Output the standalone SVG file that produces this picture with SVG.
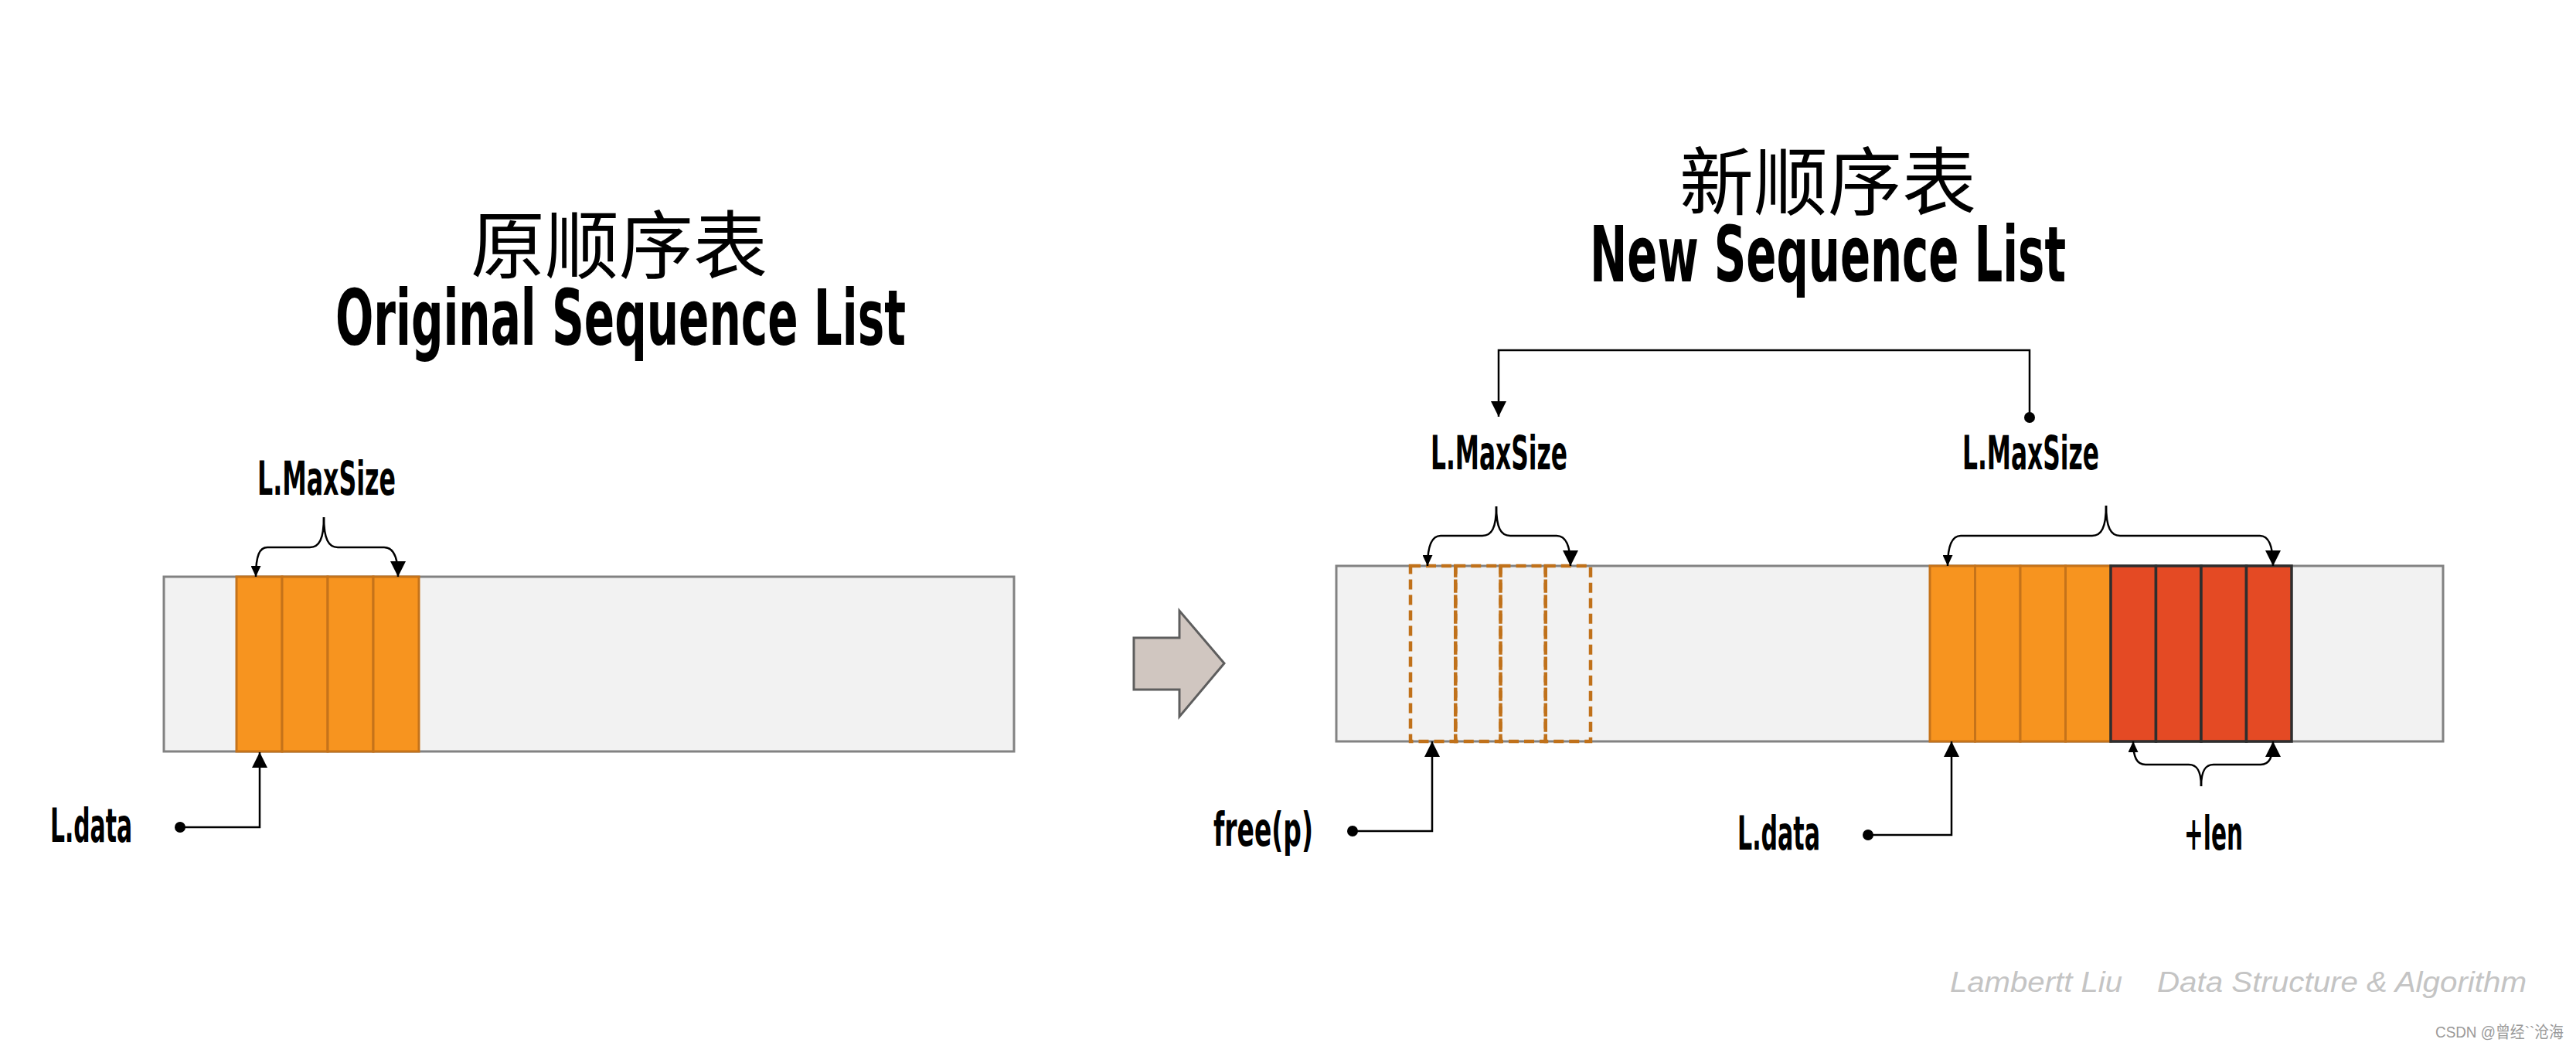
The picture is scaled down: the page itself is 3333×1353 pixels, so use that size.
<svg xmlns="http://www.w3.org/2000/svg" width="3333" height="1353" viewBox="0 0 3333 1353">
<style>
.bar{fill:#F2F2F2;stroke:#828282;stroke-width:3}
.org{fill:#F7941F;stroke:#C5731A;stroke-width:3}
.red{fill:#E44A24;stroke:#2E2E2E;stroke-width:3.5}
.dash{fill:none;stroke:#C0711A;stroke-width:4.5;stroke-dasharray:13 7}
.lbl{font-family:"Liberation Sans Narrow","DejaVu Sans Condensed","Liberation Sans",sans-serif;font-weight:bold;font-size:60px;fill:#000}
.ttl{font-family:"Liberation Sans Narrow","DejaVu Sans Condensed","Liberation Sans",sans-serif;font-weight:bold;font-size:100px}
.cjk{font-family:"Noto Sans CJK SC",sans-serif;font-weight:normal;font-size:96px}
.con{fill:none;stroke:#000;stroke-width:2.5}
.foot{font-family:"Liberation Sans","DejaVu Sans",sans-serif;font-style:italic;font-size:36px;fill:#C4C4C4}
</style>
<defs>
<marker id="ah" markerUnits="userSpaceOnUse" viewBox="0 0 20 20" markerWidth="20" markerHeight="20" refX="20" refY="10" orient="auto"><path d="M0,0 L20,10 L0,20 z" fill="#000"/></marker>
<marker id="ahs" markerUnits="userSpaceOnUse" viewBox="0 0 14 13" markerWidth="14" markerHeight="13" refX="14" refY="6.5" orient="auto"><path d="M0,0 L14,6.5 L0,13 z" fill="#000"/></marker>
</defs>
<rect width="3333" height="1353" fill="#FFFFFF"/>

<g id="title-left">
<text fill="#000"><tspan class="cjk" x="609" y="352">原顺序表</tspan><tspan class="ttl" x="434" y="446" textLength="738" lengthAdjust="spacingAndGlyphs">Original Sequence List</tspan></text>
</g>
<g id="title-right">
<text fill="#000"><tspan class="cjk" x="2173" y="270">新顺序表</tspan><tspan class="ttl" x="2057" y="364" textLength="616" lengthAdjust="spacingAndGlyphs">New Sequence List</tspan></text>
</g>

<g id="list-original">
<rect class="bar" x="212" y="746" width="1100" height="226"/>
<rect class="org" x="306" y="746" width="59" height="226"/>
<rect class="org" x="365" y="746" width="59" height="226"/>
<rect class="org" x="424" y="746" width="59" height="226"/>
<rect class="org" x="483" y="746" width="59" height="226"/>
</g>

<g id="transform-arrow">
<polygon points="1467,825 1526,825 1526,790 1584,858 1526,927 1526,892 1467,892" fill="#D0C6C0" stroke="#5E5E5E" stroke-width="3"/>
</g>

<g id="list-new">
<rect class="bar" x="1729" y="732" width="1432" height="227"/>
<rect class="dash" x="1825" y="732" width="58.25" height="227"/>
<rect class="dash" x="1883.25" y="732" width="58.25" height="227"/>
<rect class="dash" x="1941.5" y="732" width="58.25" height="227"/>
<rect class="dash" x="1999.75" y="732" width="58.25" height="227"/>
<rect class="org" x="2497" y="732" width="58.5" height="227"/>
<rect class="org" x="2555.5" y="732" width="58.5" height="227"/>
<rect class="org" x="2614" y="732" width="58.5" height="227"/>
<rect class="org" x="2672.5" y="732" width="58.5" height="227"/>
<rect class="red" x="2731" y="732" width="58.5" height="227"/>
<rect class="red" x="2789.5" y="732" width="58.5" height="227"/>
<rect class="red" x="2848" y="732" width="58.5" height="227"/>
<rect class="red" x="2906.5" y="732" width="58.5" height="227"/>
</g>

<g id="labels">
<text class="lbl" x="333" y="640" textLength="179" lengthAdjust="spacingAndGlyphs">L.MaxSize</text>
<text class="lbl" x="1851" y="607" textLength="177" lengthAdjust="spacingAndGlyphs">L.MaxSize</text>
<text class="lbl" x="2539" y="607" textLength="177" lengthAdjust="spacingAndGlyphs">L.MaxSize</text>
<text class="lbl" x="65" y="1089" textLength="106" lengthAdjust="spacingAndGlyphs">L.data</text>
<text class="lbl" x="1570" y="1094" textLength="129" lengthAdjust="spacingAndGlyphs">free(p)</text>
<text class="lbl" x="2248" y="1099" textLength="107" lengthAdjust="spacingAndGlyphs">L.data</text>
<text class="lbl" x="2826" y="1099" textLength="76" lengthAdjust="spacingAndGlyphs">+len</text>
</g>

<g id="connectors">
<path class="con" d="M419,669 C419,697 413,708 401,708 L346,708 C336,708 331,718 331,746" marker-end="url(#ahs)"/>
<path class="con" d="M419,669 C419,697 425,708 437,708 L497,708 C508,708 515,718 515,746" marker-end="url(#ah)"/>
<path class="con" d="M233,1070 L336,1070 L336,973" marker-end="url(#ah)"/>
<circle cx="233" cy="1070" r="7" fill="#000"/>

<path class="con" d="M1936,655 C1936,683 1930,693 1918,693 L1864,693 C1853,693 1847,705 1847,732" marker-end="url(#ahs)"/>
<path class="con" d="M1936,655 C1936,683 1942,693 1954,693 L2014,693 C2025,693 2032,705 2032,732" marker-end="url(#ah)"/>
<path class="con" d="M2725,654 C2725,682 2719,693 2707,693 L2537,693 C2526,693 2520,705 2520,732" marker-end="url(#ahs)"/>
<path class="con" d="M2725,654 C2725,682 2731,693 2743,693 L2924,693 C2935,693 2941,705 2941,732" marker-end="url(#ah)"/>
<path class="con" d="M2848,1017 C2848,996 2842,989 2832,989 L2776,989 C2765,989 2760,980 2760,959" marker-end="url(#ahs)"/>
<path class="con" d="M2848,1017 C2848,996 2854,989 2864,989 L2925,989 C2936,989 2941,980 2941,959" marker-end="url(#ah)"/>

<path class="con" d="M2626,540 L2626,453 L1939,453 L1939,539" marker-end="url(#ah)"/>
<circle cx="2626" cy="540" r="7" fill="#000"/>

<path class="con" d="M1750,1075 L1853,1075 L1853,959" marker-end="url(#ah)"/>
<circle cx="1750" cy="1075" r="7" fill="#000"/>
<path class="con" d="M2417,1080 L2525,1080 L2525,959" marker-end="url(#ah)"/>
<circle cx="2417" cy="1080" r="7" fill="#000"/>
</g>

<g id="footer">
<text class="foot" x="2523" y="1283" textLength="223" lengthAdjust="spacingAndGlyphs">Lambertt Liu</text>
<text class="foot" x="2791" y="1283" textLength="478" lengthAdjust="spacingAndGlyphs">Data Structure &amp; Algorithm</text>
<text x="3151" y="1342" font-family="Liberation Sans,Noto Sans CJK SC,sans-serif" font-size="21" fill="#9A9A9A" textLength="166" lengthAdjust="spacingAndGlyphs">CSDN @曾经``沧海</text>
</g>
</svg>
